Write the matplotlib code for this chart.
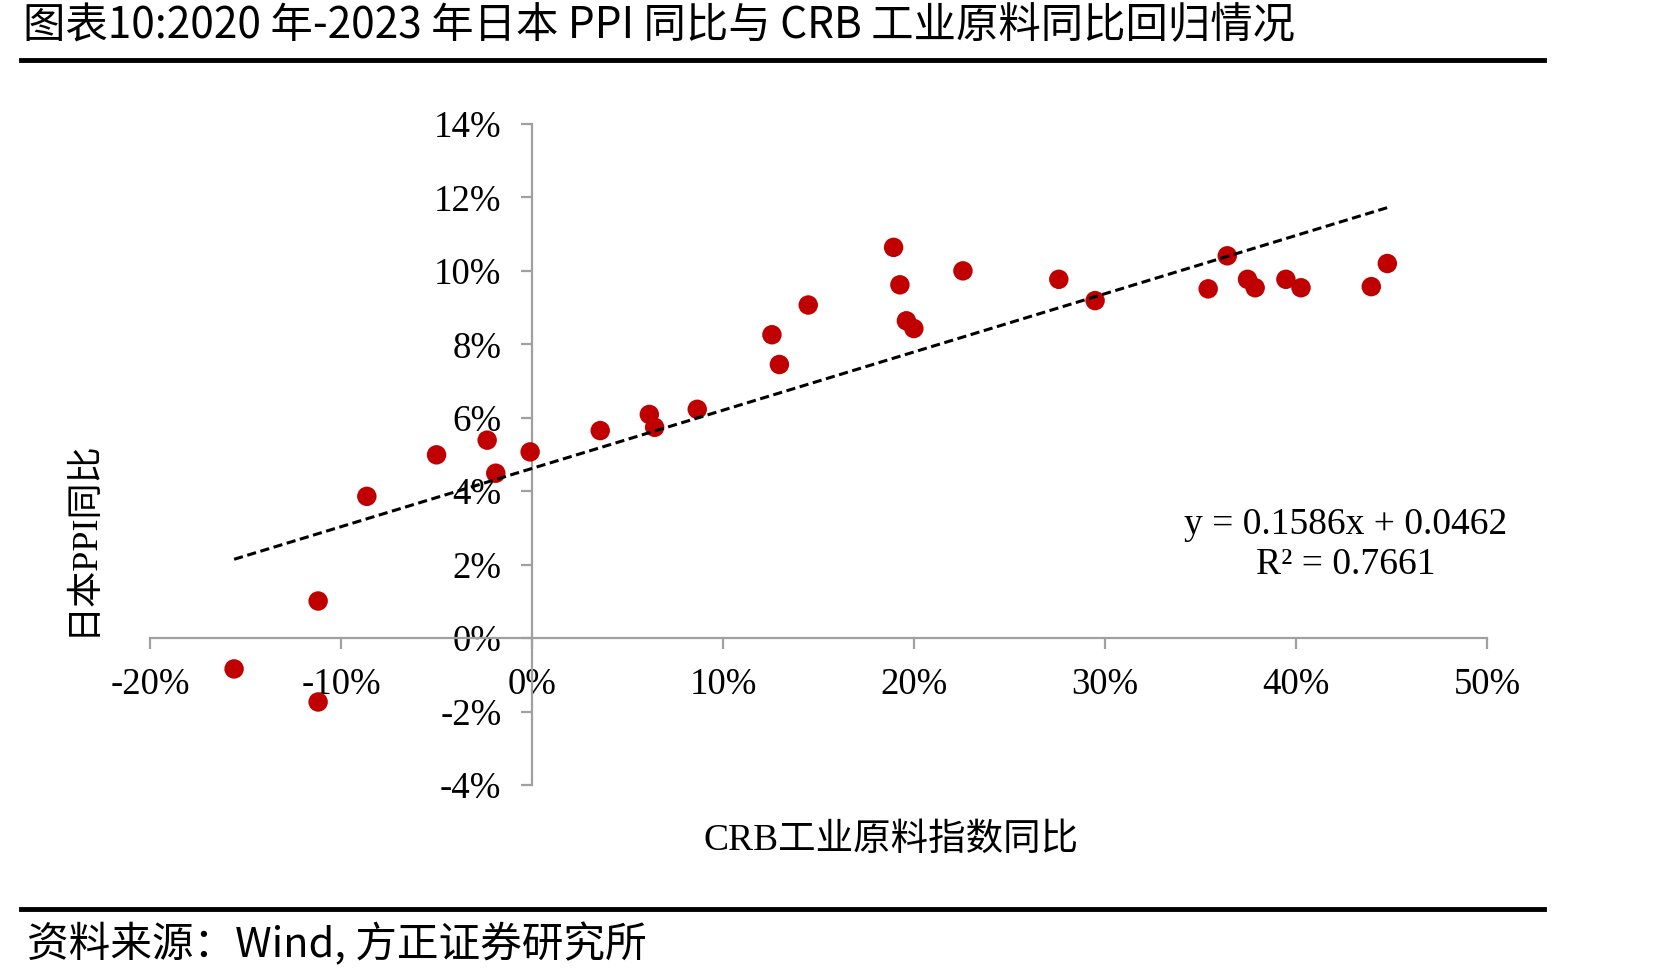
import numpy as np
import matplotlib
matplotlib.use('Agg')
from matplotlib import pyplot as plt
from matplotlib.ticker import FuncFormatter, MultipleLocator

# CRB industrial raw materials YoY (%), Japan PPI YoY (%)
crb_yoy = [-15.6, -11.2, -11.2, -8.65, -5.0, -2.35, -1.9, -0.1, 3.57, 6.14,
           6.42, 8.65, 12.56, 12.95, 14.46, 18.93, 19.26, 19.6, 19.99, 22.56,
           27.58, 29.48, 35.4, 36.4, 37.46, 37.86, 39.47, 40.26, 43.94, 44.78]
ppi_yoy = [-0.84, -1.74, 1.01, 3.86, 4.99, 5.39, 4.49, 5.07, 5.65, 6.09,
           5.74, 6.23, 8.26, 7.45, 9.07, 10.64, 9.62, 8.64, 8.43, 10.0,
           9.77, 9.19, 9.51, 10.41, 9.77, 9.54, 9.77, 9.54, 9.57, 10.2]
slope = 0.1586
intercept = 0.0462
r2 = 0.7661

title = '图表10:2020 年-2023 年日本 PPI 同比与 CRB 工业原料同比回归情况'
source = '资料来源：Wind, 方正证券研究所'
xlabel = 'CRB工业原料指数同比'
ylabel = '日本PPI同比'

serif = ['Liberation Serif', 'Noto Sans CJK SC']
cjk = ['Noto Sans CJK SC', 'DejaVu Sans']
axis_gray = '#A0A0A0'

fig = plt.figure(figsize=(16.71, 9.8), dpi=100)
ax = fig.add_axes([0.0898, 0.199, 0.8001, 0.6745])

ax.scatter(crb_yoy, ppi_yoy, s=14**2, c='#C00000', edgecolors='none', zorder=3)

xs = np.array([min(crb_yoy), max(crb_yoy)])
ax.plot(xs, (slope * xs / 100 + intercept) * 100, ls=(0, (3, 1.5)), c='black', lw=2.2, zorder=4)

ax.set_xlim(-20, 50)
ax.set_ylim(-4, 14)
for s in ['top', 'right']:
    ax.spines[s].set_visible(False)
ax.spines['left'].set_position(('data', 0))
ax.spines['bottom'].set_position(('data', 0))
for s in ['left', 'bottom']:
    ax.spines[s].set_color(axis_gray)
    ax.spines[s].set_linewidth(1.6)
ax.xaxis.set_major_locator(MultipleLocator(10))
ax.yaxis.set_major_locator(MultipleLocator(2))
pct = FuncFormatter(lambda v, p: '%d%%' % round(v))
ax.xaxis.set_major_formatter(pct)
ax.yaxis.set_major_formatter(pct)
ax.tick_params(axis='both', direction='out', length=8, width=1.6, color=axis_gray,
               labelsize=26.5)
ax.tick_params(axis='x', pad=13)
ax.tick_params(axis='y', pad=14)
for lab in ax.get_xticklabels() + ax.get_yticklabels():
    lab.set_fontfamily(serif)

ax.text(42.6, 2.55, 'y = 0.1586x + 0.0462\nR² = %.4f' % r2, ha='center', va='center',
        fontsize=27, family=serif, linespacing=1.2)

fig.text(891 / 1671, 1 - 841 / 980, xlabel, ha='center', va='center', fontsize=27, family=serif)
fig.text(83 / 1671, 1 - 538 / 980, ylabel, ha='center', va='center', rotation=90,
         fontsize=26, family=serif)

fig.text(23 / 1671, 1 - 26 / 980, title, ha='left', va='center', fontsize=30.5, family=cjk)
fig.add_artist(plt.Line2D([21 / 1671, 1544 / 1671], [1 - 60 / 980] * 2, color='black', lw=3.5))
fig.add_artist(plt.Line2D([21 / 1671, 1544 / 1671], [1 - 909 / 980] * 2, color='black', lw=3.5))
fig.text(27 / 1671, 1 - 945 / 980, source, ha='left', va='center', fontsize=30, family=cjk,
         style='italic')

fig.savefig('out.png', dpi=100)
